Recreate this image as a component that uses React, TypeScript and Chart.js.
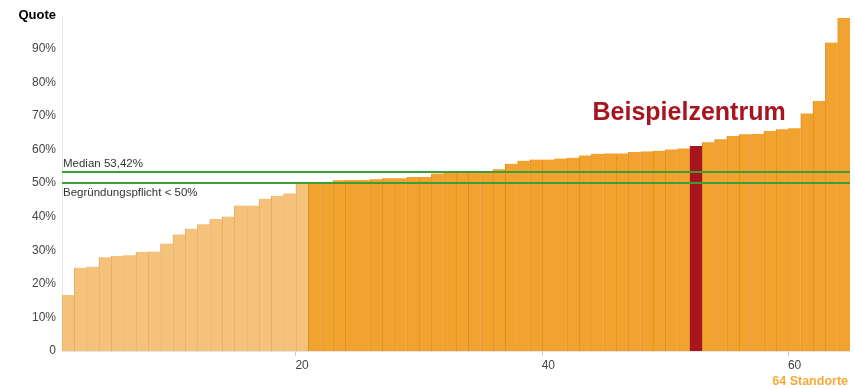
import React, { useEffect, useRef } from "react";
import { Chart, registerables } from "chart.js";

Chart.register(...registerables);

const labels: string[] = Array.from({ length: 64 }, (_, i) => String(i + 1));
const values: number[] = [
  16.7, 24.8, 25.1, 27.9, 28.3, 28.5, 29.5, 29.6, 32.0, 34.7,
  36.4, 37.7, 39.3, 40.0, 43.3, 43.3, 45.3, 46.2, 46.9, 49.9,
  49.9, 49.9, 50.8, 50.9, 50.9, 51.1, 51.4, 51.4, 51.8, 51.8,
  52.8, 53.4, 53.4, 53.4, 53.4, 54.1, 55.7, 56.6, 57.0, 57.0,
  57.3, 57.5, 58.2, 58.7, 58.8, 58.8, 59.2, 59.4, 59.6, 60.0,
  60.3, 61.0, 62.1, 63.0, 64.0, 64.5, 64.6, 65.5, 66.0, 66.3,
  70.7, 74.4, 91.8, 99.1,
];
const belowThresholdCount = 20; // first 20 locations below 50%
const highlightIndex = 51; // Beispielzentrum (bar 52)
const medianValue = 53.42;
const thresholdValue = 50;
const medianLabel = "Median 53,42%";
const thresholdLabel = "Begründungspflicht < 50%";
const highlightLabel = "Beispielzentrum";
const countLabel = "64 Standorte";
const shownXTicks = ["20", "40", "60"];

const FONT = "'Liberation Sans', Arial, Helvetica, sans-serif";
const LIGHT = "#F5C27C";
const LIGHT_BORDER = "#E3AC68";
const ORANGE = "#F2A22E";
const ORANGE_BORDER = "#DC8F22";
const RED = "#A71620";
const GREEN = "#3C9E35";

const overlayPlugin = {
  id: "overlay",
  afterDatasetsDraw(chart: any) {
    const { ctx, chartArea, scales } = chart;
    const y = scales.y;
    const x = scales.x;
    ctx.save();
    ctx.strokeStyle = GREEN;
    ctx.lineWidth = 2;
    [medianValue, thresholdValue].forEach((v) => {
      const py = Math.round(y.getPixelForValue(v));
      ctx.beginPath();
      ctx.moveTo(chartArea.left, py);
      ctx.lineTo(chartArea.right, py);
      ctx.stroke();
    });
    ctx.fillStyle = "#333";
    ctx.font = `11.5px ${FONT}`;
    ctx.textAlign = "left";
    ctx.textBaseline = "alphabetic";
    ctx.fillText(medianLabel, chartArea.left + 1, y.getPixelForValue(medianValue) - 5);
    ctx.textBaseline = "top";
    ctx.fillText(thresholdLabel, chartArea.left + 1, y.getPixelForValue(thresholdValue) + 4);
    ctx.fillStyle = RED;
    ctx.font = `bold 25px ${FONT}`;
    ctx.textAlign = "center";
    ctx.textBaseline = "middle";
    ctx.fillText(highlightLabel, x.getPixelForValue(highlightIndex) - 7, 113);
    ctx.fillStyle = "#F5A93A";
    ctx.font = `bold 12.5px ${FONT}`;
    ctx.textAlign = "right";
    ctx.textBaseline = "middle";
    ctx.fillText(countLabel, chartArea.right - 2, 382);
    ctx.restore();
  },
};

export default function App() {
  const ref = useRef<HTMLCanvasElement | null>(null);
  useEffect(() => {
    if (!ref.current) return;
    const bg = values.map((_, i) =>
      i === highlightIndex ? RED : i < belowThresholdCount ? LIGHT : ORANGE
    );
    const bc = values.map((_, i) =>
      i === highlightIndex ? RED : i < belowThresholdCount ? LIGHT_BORDER : ORANGE_BORDER
    );
    const chart = new Chart(ref.current, {
      type: "bar",
      data: {
        labels,
        datasets: [
          {
            data: values,
            backgroundColor: bg,
            borderColor: bc,
            borderWidth: { left: 1, right: 0, top: 0, bottom: 0 } as any,
            borderSkipped: false,
            categoryPercentage: 1,
            barPercentage: 1,
          },
        ],
      },
      options: {
        animation: false,
        responsive: false,
        maintainAspectRatio: false,
        layout: { padding: { top: 15, right: 5, left: 0, bottom: 0 } },
        plugins: { legend: { display: false }, tooltip: { enabled: false } },
        scales: {
          x: {
            grid: {
              display: true,
              drawOnChartArea: false,
              tickLength: 5,
              color: (c: any) =>
                c.tick && shownXTicks.includes(labels[c.index]) ? "#cccccc" : "rgba(0,0,0,0)",
            },
            border: { display: true, color: "#e6e6e6" },
            ticks: {
              autoSkip: false,
              maxRotation: 0,
              color: "#444",
              font: { family: FONT, size: 12 },
              padding: 2,
              callback: (_v: any, i: number) =>
                shownXTicks.includes(labels[i]) ? labels[i] : "",
            },
            afterFit: (s: any) => {
              s.height = 38;
            },
          },
          y: {
            min: 0,
            max: 100,
            grid: { display: false, drawTicks: false },
            border: { display: true, color: "#e8e8e8" },
            ticks: {
              stepSize: 10,
              color: (c: any) => (c.tick && c.tick.value === 100 ? "#000" : "#444"),
              font: (c: any) =>
                c.tick && c.tick.value === 100
                  ? { family: FONT, size: 13, weight: "bold" }
                  : { family: FONT, size: 12 },
              padding: 6,
              callback: (v: any) => (v === 100 ? "Quote" : v === 0 ? "0" : v + "%"),
            },
            afterFit: (s: any) => {
              s.width = 62;
            },
          },
        },
      },
      plugins: [overlayPlugin],
    });
    return () => chart.destroy();
  }, []);
  return (
    <div style={{ position: "fixed", left: 0, top: 0, width: 855, height: 389, background: "#fff" }}>
      <canvas ref={ref} width={855} height={389} style={{ width: 855, height: 389 }} />
    </div>
  );
}
